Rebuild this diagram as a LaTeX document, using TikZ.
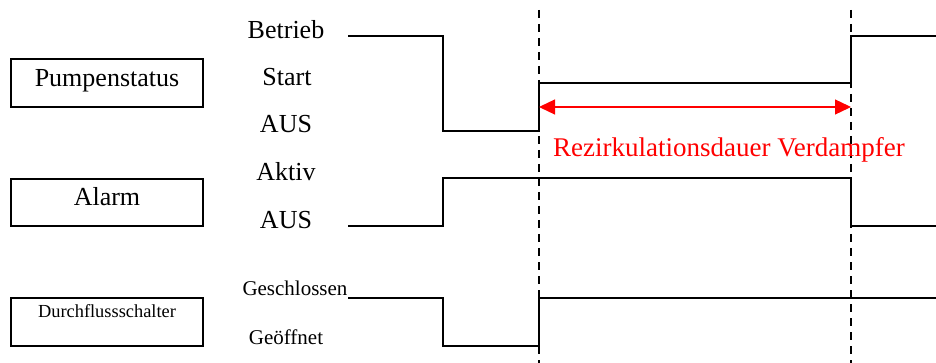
\documentclass[tikz,border=0pt]{standalone}
\usepackage{fontspec}
\setmainfont{Liberation Serif}
\usetikzlibrary{arrows.meta}
\begin{document}
\begin{tikzpicture}[x=1pt,y=-1pt,
  sig/.style={line width=2pt,line join=miter},
  box/.style={draw,line width=2pt},
  marker/.style={line width=2pt,dash pattern=on 8pt off 6pt},
  lbl/.style={font=\fontsize{26}{29}\selectfont,anchor=base,inner sep=0pt},
  slbl/.style={font=\fontsize{21}{24}\selectfont,anchor=base,inner sep=0pt},
  boxlbl/.style={font=\fontsize{26}{29}\selectfont,anchor=base,inner sep=0pt}]
\useasboundingbox (0,0) rectangle (936,363);
% boxes
\draw[box] (11,59) rectangle (203,107);
\draw[box] (11,179) rectangle (203,226);
\draw[box] (11,298) rectangle (203,346);
\node[boxlbl] (pump) at (107,87) {Pumpenstatus};
\node[boxlbl] (alarm) at (107,206) {Alarm};
\node[font=\fontsize{18.4}{21}\selectfont,anchor=base,inner sep=0pt] (durch) at (107,317) {Durchflussschalter};
% state labels
\node[lbl] (betrieb) at (286,39) {Betrieb};
\node[lbl] (start) at (287,86) {Start};
\node[lbl] (aus1) at (286,133) {AUS};
\node[lbl] (aktiv) at (286,181) {Aktiv};
\node[lbl] (aus2) at (286,229) {AUS};
\node[slbl] (geschl) at (295,295) {Geschlossen};
\node[slbl] (geoeff) at (286,344) {Geöffnet};
% markers
\coordinate (t1top) at (539,10);
\coordinate (t1bot) at (539,363);
\coordinate (t2top) at (851,10);
\coordinate (t2bot) at (851,363);
\draw[marker] (t1top) -- (t1bot);
\draw[marker] (t2top) -- (t2bot);
% signals
\draw[sig] (348,36) -- (443,36) -- (443,131) -- (539,131) -- (539,83) -- (851,83) -- (851,36) -- (936,36);
\draw[sig] (348,226) -- (443,226) -- (443,178) -- (851,178) -- (851,226) -- (936,226);
\draw[sig] (348,298) -- (443,298) -- (443,346) -- (539,346) -- (539,298) -- (936,298);
% duration
\coordinate (da) at (539,107);
\coordinate (db) at (851,107);
\draw[red,line width=1.3pt,{Triangle[length=16pt,width=15pt]}-{Triangle[length=16pt,width=15pt]}] (da) -- (db);
\node[font=\fontsize{27}{30}\selectfont,anchor=base,inner sep=0pt,text=red] (dauer) at (729,157) {Rezirkulationsdauer Verdampfer};
\end{tikzpicture}
\end{document}
